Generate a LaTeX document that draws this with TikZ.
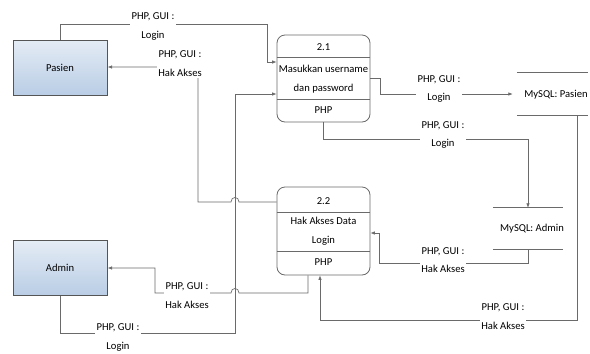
\documentclass[tikz,border=0pt]{standalone}
\usepackage{fontspec}
\setmainfont{Carlito}
\usetikzlibrary{arrows.meta,calc}
\definecolor{boxtop}{HTML}{E4ECF5}
\definecolor{boxbot}{HTML}{B9CDE5}
\definecolor{ln}{HTML}{6A6A6A}
\begin{document}
\begin{tikzpicture}[x=1pt,y=-1pt,font=\fontsize{10.6}{18.5}\selectfont,
  entity/.style={draw=ln!80!black, line width=1pt, top color=boxtop, bottom color=boxbot, minimum width=94pt, minimum height=55pt, inner sep=0pt},
  proc/.style={draw=ln, line width=0.8pt, rounded corners=8pt, minimum width=93pt, fill=white, inner sep=0pt},
  divider/.style={draw=ln, line width=0.8pt},
  txt/.style={align=center, inner sep=0pt},
  lbl/.style={fill=white, align=center, inner sep=1.5pt},
  flow/.style={draw=ln, line width=0.7pt},
  arr/.style={flow, -{Latex[length=4.5pt,width=3.5pt]}},
  store/.style={draw=ln, line width=1.3pt}]
\useasboundingbox (0,0) rectangle (590,354);

% external entities
\node[entity] (pasien) at (60,67.5) {Pasien};
\node[entity] (admin) at (60,268) {Admin};

% process 2.1
\node[proc, minimum height=87pt] (p1) at (323.5,78.5) {};
\draw[divider] (p1.west |- 0,57) -- (p1.east |- 0,57);
\draw[divider] (p1.west |- 0,99) -- (p1.east |- 0,99);
\node[txt] (p1id) at (323.5,47) {2.1};
\node[txt] (p1name) at (323.5,79) {Masukkan username\\dan password};
\node[txt] (p1loc) at (323.5,110) {PHP};

% process 2.2
\node[proc, minimum height=88pt] (p2) at (323.5,231) {};
\draw[divider] (p2.west |- 0,212) -- (p2.east |- 0,212);
\draw[divider] (p2.west |- 0,251) -- (p2.east |- 0,251);
\node[txt] (p2id) at (323.5,201) {2.2};
\node[txt] (p2name) at (323.5,231) {Hak Akses Data\\Login};
\node[txt] (p2loc) at (323.5,262) {PHP};

% data stores
\node[minimum width=71pt, minimum height=42pt, inner sep=0pt] (ds1) at (552.5,94) {};
\draw[store] (ds1.north west) -- (ds1.north east);
\draw[store] (ds1.south west) -- (ds1.south east);
\node[txt] (ds1t) at (556,95) {MySQL: Pasien};
\node[minimum width=70pt, minimum height=41pt, inner sep=0pt] (ds2) at (528,228.5) {};
\draw[store] (ds2.north west) -- (ds2.north east);
\draw[store] (ds2.south west) -- (ds2.south east);
\node[txt] (ds2t) at (532,229) {MySQL: Admin};

% connectors
\draw[arr] (pasien.north) -- (60,24) -- (267,24) -- (267,62) -- (p1.west |- 0,62);
\node[lbl] (l1) at (153,26.5) {PHP, GUI :\\Login};

\draw[arr] (p2.west |- 0,202) -- (239,202) .. controls (239,196) and (231,196) .. (231,202) -- (198,202) -- (198,67) -- (pasien.east |- 0,67);
\node[lbl] (l2) at (180,63.5) {PHP, GUI :\\Hak Akses};

\draw[arr] (admin.south) -- (60,333) -- (235,333) -- (235,94) -- (p1.west |- 0,94);
\node[lbl] (l3) at (118,337.5) {PHP, GUI :\\Login};

\draw[arr] (p2.south -| 308,0) -- (308,293) -- (239,293) .. controls (239,287) and (231,287) .. (231,293) -- (155,293) -- (155,268) -- (admin.east);
\node[lbl] (l4) at (187,295.5) {PHP, GUI :\\Hak Akses};

\draw[arr, shorten >=4pt] (p1.east |- 0,78) -- (380,78) -- (380,94) -- (ds1.west);
\node[lbl] (l5) at (439,89) {PHP, GUI :\\Login};

\draw[arr] (p1.south) -- (323.5,139) -- (528,139) -- (ds2.north);
\node[lbl] (l6) at (443,135) {PHP, GUI :\\Login};

\draw[arr] (ds2.south) -- (528,263) -- (379,263) -- (379,233) -- (p2.east |- 0,233);
\node[lbl] (l7) at (443,260) {PHP, GUI :\\Hak Akses};

\draw[arr] (ds1.south -| 577,0) -- (577,320) -- (320,320) -- (p2.south -| 320,0);
\node[lbl] (l8) at (503,316.5) {PHP, GUI :\\Hak Akses};
\end{tikzpicture}
\end{document}
